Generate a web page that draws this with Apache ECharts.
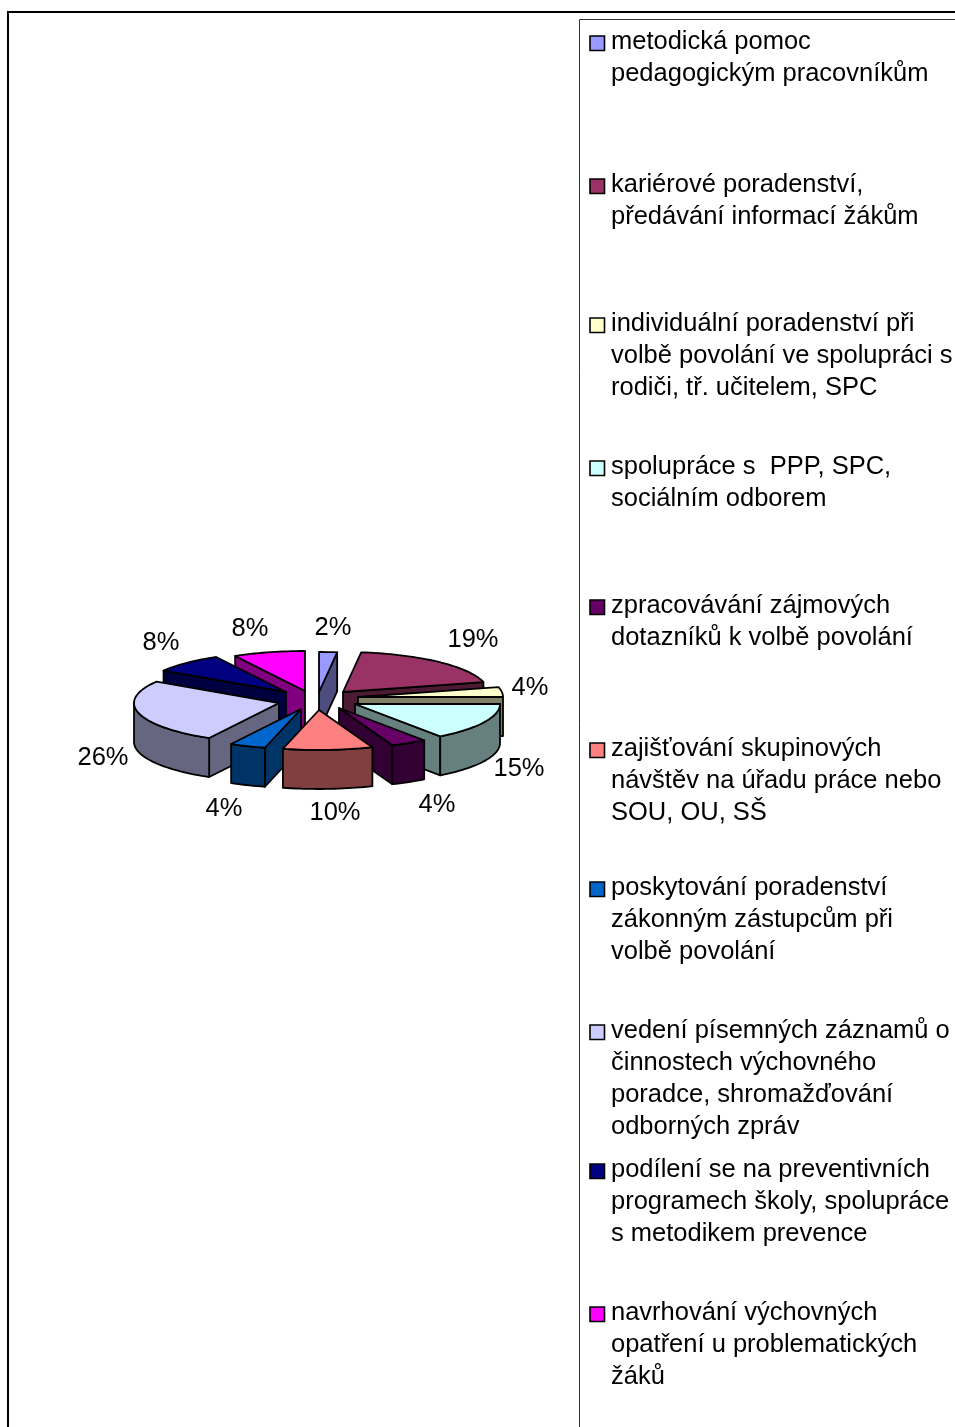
<!DOCTYPE html>
<html><head><meta charset="utf-8">
<style>html,body{margin:0;padding:0;background:#fff}#c{width:955px;height:1427px}</style>
<script src="https://cdn.jsdelivr.net/npm/echarts@6/dist/echarts.min.js"></script>
</head><body><div id="c"></div>
<script>
const categories = [
 "metodická pomoc\npedagogickým pracovníkům",
 "kariérové poradenství,\npředávání informací žákům",
 "individuální poradenství při\nvolbě povolání ve spolupráci s\nrodiči, tř. učitelem, SPC",
 "spolupráce s  PPP, SPC,\nsociálním odborem",
 "zpracovávání zájmových\ndotazníků k volbě povolání",
 "zajišťování skupinových\nnávštěv na úřadu práce nebo\nSOU, OU, SŠ",
 "poskytování poradenství\nzákonným zástupcům při\nvolbě povolání",
 "vedení písemných záznamů o\nčinnostech výchovného\nporadce, shromažďování\nodborných zpráv",
 "podílení se na preventivních\nprogramech školy, spolupráce\ns metodikem prevence",
 "navrhování výchovných\nopatření u problematických\nžáků"
];
const values = [2,19,4,15,4,10,4,26,8,8];
const colors = ["#9999FF","#993366","#FFFFCC","#CCFFFF","#660066","#FF8080","#0066CC","#CCCCFF","#000080","#FF00FF"];
const wallColors = ["#4D4D80","#4D1A33","#808066","#668080","#330033","#804040","#003366","#666680","#000040","#800080"];
// layout (screen pixels), kept apart from the data
const sliceTipX = [319,343,358,355,339,319,301,279,286,305];
const sliceTipY = [692,692,697,704,708,710,709,703,692,691];
const drawOrder = [0,9,1,8,2,3,7,4,6,5];
const labelX = [333,473,530,519,437,335,224,103,161,250];
const labelY = [628,640,688,769,805,813,809,758,643,629];
const legendY = [41,184,323,466,605,748,887,1030,1169,1312];
const RX = 145, RY = 40, DEPTH = 39, FONT = 'Liberation Sans, Arial, sans-serif', FS = 25.5;

const total = values.reduce((a,b)=>a+b,0);
function startFrac(i){let s=0;for(let k=0;k<i;k++)s+=values[k];return s/total;}
function arc(i,a0,a1,dy){
  const pts=[],n=Math.max(2,Math.ceil((a1-a0)/0.03));
  for(let k=0;k<=n;k++){const a=a0+(a1-a0)*k/n;
    pts.push([sliceTipX[i]+RX*Math.sin(a),sliceTipY[i]-RY*Math.cos(a)+dy]);}
  return pts;
}
function poly(points,fill){
  return {type:'polygon',shape:{points},style:{fill,stroke:'#000',lineWidth:1.8,lineJoin:'round'},silent:true};
}
function makeRender(i){
  return function(params,api){
    const v=api.value(0);
    const a0=startFrac(i)*2*Math.PI, a1=a0+v/total*2*Math.PI;
    const tx=sliceTipX[i], ty=sliceTipY[i], kids=[];
    const radial=(a)=>{const [p]=arc(i,a,a,0);
      return poly([[tx,ty],p,[p[0],p[1]+DEPTH],[tx,ty+DEPTH]],wallColors[i]);};
    if(Math.sin(a0)<0) kids.push(radial(a0));
    if(Math.sin(a1)>0.001) kids.push(radial(a1));
    const f0=Math.max(a0,Math.PI/2), f1=Math.min(a1,Math.PI*1.5);
    if(f1>f0){
      kids.push(poly(arc(i,f0,f1,0).concat(arc(i,f0,f1,DEPTH).reverse()),wallColors[i]));
    }
    kids.push(poly([[tx,ty]].concat(arc(i,a0,a1,0)),colors[i]));
    kids.push({type:'text',silent:true,style:{x:labelX[i],y:labelY[i],text:v+'%',
      font:FS+'px '+FONT,fill:'#000',align:'center',verticalAlign:'middle'}});
    return {type:'group',children:kids};
  };
}
const series = categories.map((name,i)=>({
  type:'custom',coordinateSystem:'none',name,
  z:2+drawOrder.indexOf(i),
  data:[[values[i]]],
  renderItem:makeRender(i),
  animation:false,silent:true
}));
const graphic = [
 {type:'rect',shape:{x:8,y:12,width:1100,height:1600},style:{fill:'#fff',stroke:'#000',lineWidth:2},z:-2,silent:true},
 {type:'rect',shape:{x:579.5,y:19.5,width:600,height:1600},style:{fill:'#fff',stroke:'#333',lineWidth:1},z:-1,silent:true}
];
categories.forEach((t,i)=>{
  graphic.push({type:'rect',shape:{x:590,y:legendY[i]-5,width:14.5,height:14.5},
    style:{fill:colors[i],stroke:'#000',lineWidth:1.6},silent:true});
  graphic.push({type:'text',silent:true,style:{x:611,y:legendY[i]-15,text:t,font:FS+'px '+FONT,
    lineHeight:32,fill:'#000',align:'left',verticalAlign:'top'}});
});
const chart = echarts.init(document.getElementById('c'),null,{renderer:'canvas'});
chart.setOption({animation:false,backgroundColor:'#fff',graphic:{elements:graphic},series});
</script></body></html>
